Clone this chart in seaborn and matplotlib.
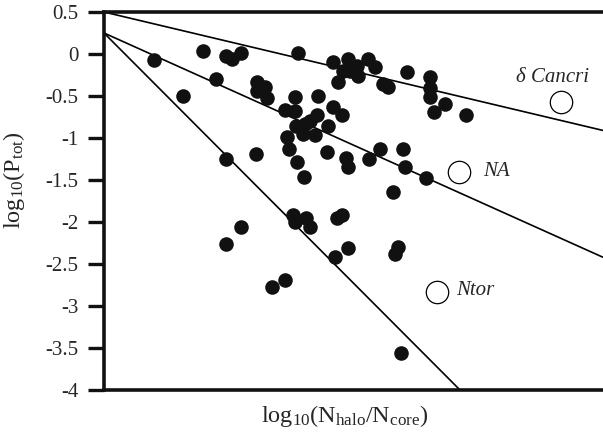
import matplotlib
matplotlib.use("Agg")
import matplotlib.pyplot as plt
import seaborn as sns
import numpy as np
import pandas as pd

sns.set_style("ticks")
plt.rcParams['font.family'] = ['Liberation Serif', 'DejaVu Serif']
plt.rcParams['axes.unicode_minus'] = False

# Observed points (x: log10(Nhalo/Ncore) arbitrary units, y: log10(Ptot))
obs_x = [0.50, 0.79, 0.99, 1.12, 1.22, 1.28, 1.37, 1.22, 1.52, 1.53, 1.53, 1.61,
         1.63, 1.81, 1.91, 1.91, 1.94, 1.92, 1.99, 1.83, 1.85, 1.93, 2.00, 2.11,
         2.06, 2.13, 2.01, 2.14, 2.24, 2.29, 2.38, 2.29, 2.39, 2.34, 2.44, 2.46,
         2.53, 2.54, 2.64, 2.71, 2.79, 2.84, 3.03, 3.26, 3.26, 3.26, 3.41, 3.30,
         3.62, 2.23, 2.42, 2.44, 2.65, 2.76, 2.99, 3.01, 3.22, 2.89, 1.22, 1.37,
         1.68, 1.81, 1.89, 1.91, 2.02, 2.06, 2.33, 2.38, 2.31, 2.44, 2.91, 2.94,
         2.97]
obs_y = [-0.07, -0.50, 0.035, -0.30, -0.025, -0.06, 0.01, -1.255, -1.195, -0.335,
         -0.443, -0.395, -0.527, -0.670, -0.515, -0.682, 0.01, -0.861, -0.956,
         -0.992, -1.135, -1.29, -1.469, -0.968, -0.801, -0.729, -0.837, -0.503,
         -0.861, -0.634, -0.729, -0.097, -0.204, -0.335, -0.061, -0.204, -0.145,
         -0.264, -0.061, -0.156, -0.359, -0.395, -0.216, -0.276, -0.407, -0.515,
         -0.598, -0.694, -0.729, -1.171, -1.243, -1.350, -1.255, -1.135, -1.135,
         -1.350, -1.481, -1.648, -2.257, -2.054, -2.770, -2.687, -1.911, -1.995,
         -1.947, -2.054, -1.947, -1.911, -2.412, -2.305, -2.377, -2.293, -3.558]

# Model lines (end points)
line_top_x = [0.0, 4.99]
line_top_y = [0.50, -0.91]
line_mid_x = [0.0, 4.99]
line_mid_y = [0.25, -2.42]
line_low_x = [0.0, 3.56]
line_low_y = [0.25, -4.00]

# Reference systems (open circles)
ref_names = ["δ Cancri", "NA", "Ntor"]
ref_x = [4.57, 3.55, 3.33]
ref_y = [-0.574, -1.41, -2.83]

yticks = [-4, -3.5, -3, -2.5, -2, -1.5, -1, -0.5, 0, 0.5]
ytick_labels = ["-4", "-3.5", "-3", "-2.5", "-2", "-1.5", "-1", "-0.5", "0", "0.5"]

fig = plt.figure(figsize=(6.03, 4.33), dpi=100)
ax = fig.add_axes([104/603, 1 - 390/433, 1 - 104/603, (390 - 12)/433])

for lx, ly in [(line_top_x, line_top_y), (line_mid_x, line_mid_y), (line_low_x, line_low_y)]:
    sns.lineplot(x=lx, y=ly, ax=ax, color="black", linewidth=1.2, zorder=2)

sns.scatterplot(x=obs_x, y=obs_y, ax=ax, s=110, color="#111111", edgecolor="#111111",
                linewidth=0, zorder=3)
sns.scatterplot(x=ref_x, y=ref_y, ax=ax, s=260, facecolor="white", edgecolor="black",
                linewidth=0.9, zorder=3)

ax.text(4.48, -0.28, ref_names[0], fontsize=15, style="italic", ha="center", va="center")
ax.text(3.79, -1.40, ref_names[1], fontsize=15, style="italic", ha="left", va="center")
ax.text(3.52, -2.82, ref_names[2], fontsize=15, style="italic", ha="left", va="center")

ax.set_xlim(0, 4.99)
ax.set_ylim(-4, 0.5)
ax.set_xticks([])
ax.set_yticks(yticks)
ax.set_yticklabels(ytick_labels, fontsize=15)
ax.tick_params(axis="y", direction="out", length=11.5, width=2.4, pad=7, color="#111111")

for side in ["left", "bottom", "top"]:
    ax.spines[side].set_linewidth(2.6)
    ax.spines[side].set_color("#111111")
ax.spines["right"].set_visible(False)

ax.set_ylabel(r"$\mathregular{log_{10}(P_{tot})}$", fontsize=17.5)
ax.set_xlabel(r"$\mathregular{log_{10}(N_{halo}/N_{core})}$", fontsize=17.5)
ax.yaxis.set_label_coords(-0.155, 0.555)
ax.xaxis.set_label_coords(0.483, -0.035)

fig.savefig("out.png", dpi=100)
